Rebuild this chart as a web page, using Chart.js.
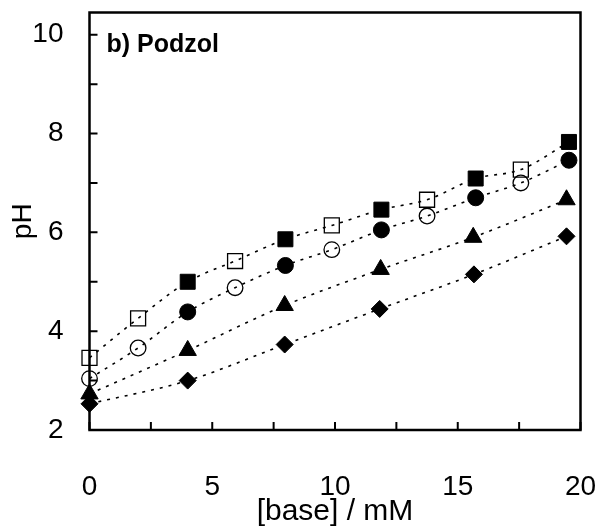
<!DOCTYPE html>
<html>
<head>
<meta charset="utf-8">
<script src="https://cdn.jsdelivr.net/npm/chart.js@4/dist/chart.umd.min.js"></script>
<style>
  html, body { margin: 0; padding: 0; background: #fff; }
  #wrap { width: 598px; height: 529px; }
</style>
</head>
<body>
<div id="wrap"><canvas id="titration" width="598" height="529"></canvas></div>
<script>
// base added (mM) and pH for each titration run
let sqFilledX = [4.0, 7.98, 11.89, 15.73, 19.53]
let sqFilledY = [5.00, 5.86, 6.46, 7.09, 7.83]
let sqOpenX = [0, 1.98, 5.93, 9.87, 13.75, 17.57]
let sqOpenY = [3.46, 4.26, 5.42, 6.14, 6.66, 7.27]
let ciFilledX = [4.0, 7.98, 11.89, 15.73, 19.53]
let ciFilledY = [4.39, 5.33, 6.05, 6.70, 7.46]
let ciOpenX = [0, 1.98, 5.93, 9.87, 13.75, 17.57]
let ciOpenY = [3.04, 3.66, 4.88, 5.65, 6.33, 7.00]
let triX = [0, 4.0, 7.95, 11.86, 15.63, 19.43]
let triY = [2.73, 3.61, 4.52, 5.25, 5.90, 6.66]
let diaX = [0, 4.0, 7.95, 11.82, 15.66, 19.43]
let diaY = [2.53, 3.00, 3.73, 4.45, 5.15, 5.92]

let xTicks = [0, 2.5, 5, 7.5, 10, 12.5, 15, 17.5, 20]
let xLabels = [0, 5, 10, 15, 20]
let yTicks = [2, 3, 4, 5, 6, 7, 8, 9, 10]
let yLabels = [2, 4, 6, 8, 10]

let pts = (xs, ys) => xs.map((x, i) => ({x: x, y: ys[i]}))

// dotted guide through the points of one soil pair, in x order
let guide = (...sets) => sets.flat().sort((a, b) => a.x - b.x)

let black = '#000'

let marker = (data, style, radius, filled) => ({
  type: 'scatter',
  data: data,
  pointStyle: style,
  pointRadius: radius,
  pointHoverRadius: radius,
  pointBackgroundColor: filled ? black : 'rgba(0,0,0,0)',
  pointBorderColor: black,
  pointBorderWidth: filled ? 1 : 1.3,
  showLine: false,
  clip: false,
  order: 0,
})

let curve = (data) => ({
  type: 'line',
  data: data,
  borderColor: black,
  borderWidth: 1.6,
  borderDash: [3, 6],
  pointRadius: 0,
  fill: false,
  cubicInterpolationMode: 'monotone',
  clip: false,
  order: 1,
})

let sqF = pts(sqFilledX, sqFilledY)
let sqO = pts(sqOpenX, sqOpenY)
let ciF = pts(ciFilledX, ciFilledY)
let ciO = pts(ciOpenX, ciOpenY)
let tri = pts(triX, triY)
let dia = pts(diaX, diaY)

// frame, inward ticks and panel label
let framePlugin = {
  id: 'frame',
  beforeDatasetsDraw(chart) {
    let {ctx, chartArea: a, scales: {x, y}} = chart
    ctx.save()
    ctx.strokeStyle = black
    ctx.lineWidth = 2.5
    ctx.strokeRect(a.left, a.top, a.right - a.left, a.bottom - a.top)
    ctx.lineWidth = 2
    ctx.beginPath()
    xTicks.forEach((v) => {
      let px = x.getPixelForValue(v)
      ctx.moveTo(px, a.bottom)
      ctx.lineTo(px, a.bottom - 8)
    })
    yTicks.forEach((v) => {
      let py = y.getPixelForValue(v)
      ctx.moveTo(a.left, py)
      ctx.lineTo(a.left + 8, py)
    })
    ctx.stroke()
    ctx.fillStyle = black
    ctx.font = 'bold 25px "Liberation Sans", Arial, sans-serif'
    ctx.textBaseline = 'middle'
    ctx.textAlign = 'left'
    ctx.fillText('b) Podzol', a.left + 17, y.getPixelForValue(10) + 10)
    ctx.restore()
  },
}

let font = {family: '"Liberation Sans", Arial, sans-serif', size: 28}
let titleFont = {family: '"Liberation Sans", Arial, sans-serif', size: 30}

// fixed box sizes so the plot frame sits where it should
let fixBox = (w, h) => (s) => {
  if (w) s.width = w
  if (h) s.height = h
  s.paddingLeft = 0
  s.paddingRight = 0
  s.paddingTop = 0
  s.paddingBottom = 0
}

new Chart(document.getElementById('titration'), {
  type: 'scatter',
  data: {
    datasets: [
      marker(sqF, 'rect', 10.6, true),
      marker(sqO, 'rect', 10.6, false),
      marker(ciF, 'circle', 8, true),
      marker(ciO, 'circle', 7.8, false),
      marker(tri, 'triangle', 10, true),
      marker(dia, 'rectRot', 8.5, true),
      curve(guide(sqF, sqO)),
      curve(guide(ciF, ciO)),
      curve(tri),
      curve(dia),
    ],
  },
  options: {
    responsive: false,
    animation: false,
    events: [],
    layout: {padding: {left: 0, top: 12.5, right: 17.5, bottom: 0}},
    plugins: {
      legend: {display: false},
      tooltip: {enabled: false},
    },
    scales: {
      x: {
        type: 'linear',
        min: 0,
        max: 20,
        grid: {display: false, drawTicks: false},
        border: {display: false},
        ticks: {
          autoSkip: false,
          maxRotation: 0,
          padding: 40,
          color: black,
          font: font,
          callback: (v) => xLabels.includes(v) ? String(v) : '',
        },
        afterBuildTicks: (s) => { s.ticks = xTicks.map((v) => ({value: v})) },
        title: {
          display: true,
          text: '[base] / mM',
          color: black,
          font: titleFont,
          padding: {top: 0, bottom: -1},
        },
        afterFit: fixBox(0, 99),
      },
      y: {
        type: 'linear',
        min: 2,
        max: 10.45,
        grid: {display: false, drawTicks: false},
        border: {display: false},
        ticks: {
          autoSkip: false,
          padding: 26,
          color: black,
          font: font,
          callback: (v) => yLabels.includes(v) ? String(v) : '',
        },
        afterBuildTicks: (s) => { s.ticks = yTicks.map((v) => ({value: v})) },
        title: {
          display: true,
          text: 'pH',
          color: black,
          font: font,
          padding: {top: 6, bottom: 0},
        },
        afterFit: fixBox(89.5, 0),
      },
    },
  },
  plugins: [framePlugin],
})
</script>
</body>
</html>
